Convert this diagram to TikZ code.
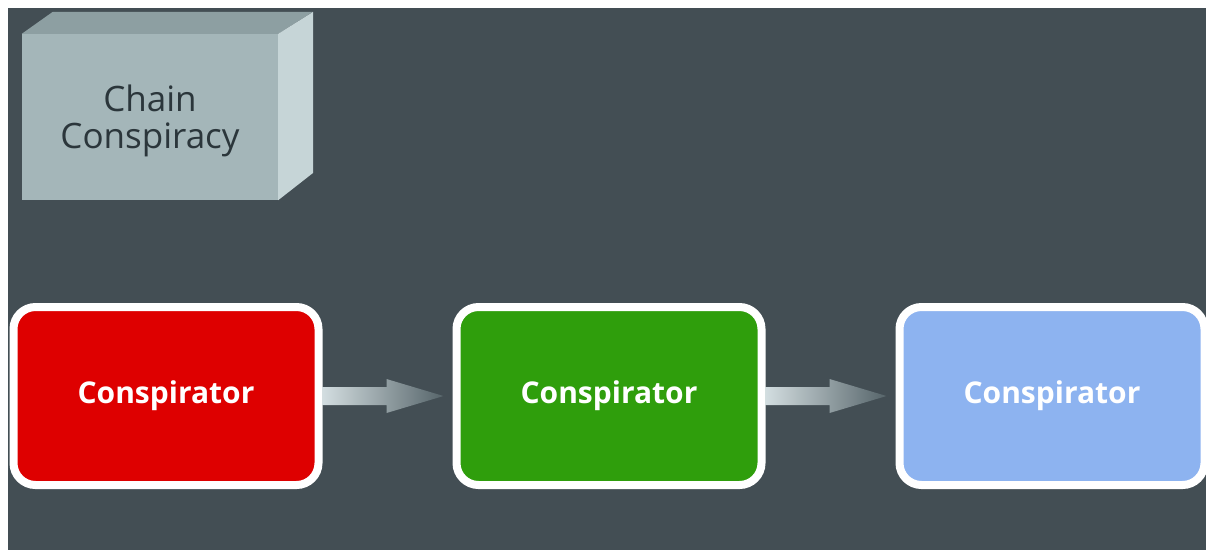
\documentclass[tikz,border=0pt]{standalone}
\usepackage{fontspec}
\setmainfont{Open Sans}
\usetikzlibrary{positioning,calc}
\definecolor{CCSlate}{HTML}{434E54}
\definecolor{CCRed}{HTML}{DE0000}
\definecolor{CCGreen}{HTML}{2F9E0C}
\definecolor{CCBlue}{HTML}{8DB3F0}
\definecolor{CCFront}{HTML}{A4B6B9}
\definecolor{CCTop}{HTML}{8D9FA2}
\definecolor{CCSide}{HTML}{C6D5D7}
\definecolor{CCInk}{HTML}{2B363B}
\definecolor{CCArrowLight}{HTML}{D3DEE0}
\definecolor{CCArrowDark}{HTML}{56646A}

\begin{document}
\begin{tikzpicture}[x=1pt,y=-1pt,
 member/.style={draw=white,line width=8pt,rounded corners=22pt,minimum width=305pt,minimum height=178pt,font=\fontsize{30}{36}\selectfont\bfseries,text=white},
 flow/.style={left color=CCArrowLight,right color=CCArrowDark},
 front/.style={fill=CCFront,minimum width=256pt,minimum height=166pt,align=center,text depth=0pt,font=\fontsize{35}{37}\selectfont,text=CCInk}]
\useasboundingbox (0,0) rectangle (1206,550);
\fill[white] (0,0) rectangle (1206,550);
\fill[CCSlate] (8,8) rectangle (1206,550);
\node[front] (chain) at (150,117) {Chain\\Conspiracy};
\fill[CCTop] (chain.north west) -- ++(31,-22) -- ++(260,0) -- (chain.north east) -- cycle;
\fill[CCSide] (chain.north east) -- ++(35,-22) -- ++(0,161) -- (chain.south east) -- cycle;
\node[member,fill=CCRed] (first) at (166,396) {Conspirator};
\node[member,fill=CCGreen,right=130pt of first] (second) {Conspirator};
\node[member,fill=CCBlue,right=130pt of second] (third) {Conspirator};
\foreach \a/\b in {first/second,second/third}
  \shade[flow] ($(\a.east)+(0,-9)$) -- ($(\b.west)+(-66,-9)$) -- ($(\b.west)+(-66,-17)$)
    -- ($(\b.west)+(-9,0)$) -- ($(\b.west)+(-66,17)$) -- ($(\b.west)+(-66,9)$)
    -- ($(\a.east)+(0,9)$) -- cycle;
\end{tikzpicture}
\end{document}
